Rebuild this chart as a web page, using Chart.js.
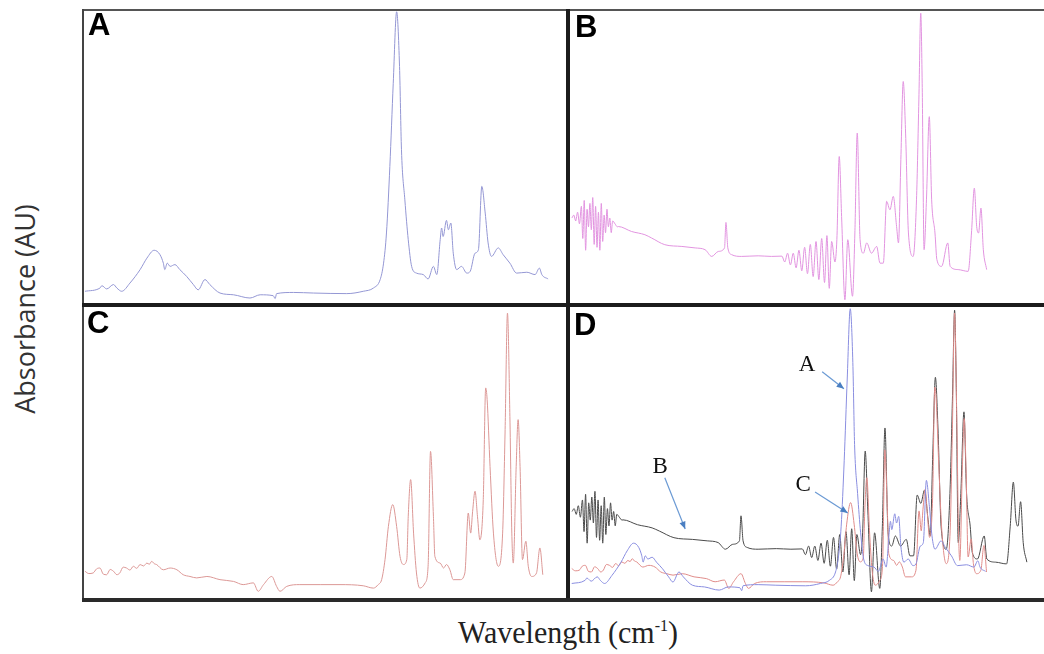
<!DOCTYPE html>
<html lang="en">
<head>
  <meta charset="UTF-8" />
  <title>FTIR spectra A-D</title>
  <script src="https://cdn.jsdelivr.net/npm/chart.js"></script>
  <style>
    body {
      margin: 0;
      background: #fff;
    }

    #fig {
      position: relative;
      width: 1044px;
      height: 654px;
      overflow: hidden;
    }

    canvas, .rule, .tag, .title {
      position: absolute;
    }

    .rule {
      background: #1c1c1c;
    }

    .tag {
      font-family: "Liberation Sans", Arial, sans-serif;
      font-weight: bold;
      font-size: 31px;
      line-height: 1;
      color: #000;
    }

    #ytitle {
      font-family: "Open Sans", sans-serif;
      font-size: 27px;
      color: #333;
      left: 24px;
      top: 309px;
      transform: translate(-50%, -50%) rotate(-90deg);
      white-space: nowrap;
    }

    #xtitle {
      font-family: "Liberation Serif", "Times New Roman", serif;
      font-size: 30px;
      color: #222;
      left: 568px;
      top: 632px;
      transform: translate(-50%, -50%) scaleY(1.08);
      white-space: nowrap;
    }

    #xtitle sup {
      font-size: 16px;
    }
  </style>
</head>
<body>
  <div id="fig">
    <canvas id="panelA" width="484" height="293" style="left:83px;top:10px"></canvas>
    <canvas id="panelB" width="474" height="293" style="left:570px;top:10px"></canvas>
    <canvas id="panelC" width="484" height="291" style="left:83px;top:307px"></canvas>
    <canvas id="panelD" width="474" height="288" style="left:570px;top:307px"></canvas>

    <div class="rule" style="left:82px;top:9px;width:962px;height:2px;background:#555"></div>
    <div class="rule" style="left:82px;top:9px;width:2px;height:593px;background:#444"></div>
    <div class="rule" style="left:566px;top:9px;width:4px;height:593px"></div>
    <div class="rule" style="left:82px;top:303px;width:962px;height:4px"></div>
    <div class="rule" style="left:82px;top:598px;width:962px;height:4px;background:#2a2a2a"></div>

    <div class="tag" style="left:88px;top:9px">A</div>
    <div class="tag" style="left:575px;top:11px">B</div>
    <div class="tag" style="left:87px;top:307px">C</div>
    <div class="tag" style="left:574px;top:309px">D</div>

    <div class="title" id="ytitle">Absorbance (AU)</div>
    <div class="title" id="xtitle">Wavelength (cm<sup>-1</sup>)</div>
  </div>

  <script>
    // spectra: [x in % of panel width, absorbance in % of panel height]
    const spectrumA = [
      [0.4,4.0],[3.5,5.1],[3.9,5.9],[4.9,4.8],[6.3,6.3],[7.0,5.1],[8.0,4.0],[9.7,6.8],
      [11.8,11.4],[13.2,15.3],[14.7,18.0],[15.9,16.5],[16.6,13.6],[16.9,11.4],[17.4,13.6],
      [18.0,12.5],[19.0,13.1],[20.0,11.4],[21.4,9.1],[22.8,6.3],[23.8,4.5],[25.2,8.0],
      [26.2,6.3],[28.3,3.4],[31.1,2.8],[34.5,1.7],[36.6,2.8],[39.3,2.5],[39.7,1.5],[40.0,3.2],
      [43.5,3.6],[47.6,3.4],[54.5,3.2],[57.9,4.0],[60.0,5.1],[61.4,8.0],[62.1,13.6],
      [62.7,23.9],[63.4,46.6],[64.1,75.0],[64.8,99.4],[65.4,80.7],[65.8,52.3],[66.5,35.2],
      [67.2,21.6],[67.9,12.5],[68.9,10.2],[70.3,9.7],[71.3,8.2],[72.4,12.5],[73.1,9.7],
      [73.8,21.6],[74.1,25.6],[74.4,22.7],[75.1,28.2],[75.5,25.0],[76.0,27.3],[76.5,17.0],
      [77.2,11.4],[78.2,12.5],[79.3,10.2],[80.0,10.8],[81.0,17.0],[81.7,18.2],[82.4,39.8],
      [83.1,30.7],[83.7,20.5],[84.4,15.9],[85.8,18.8],[86.8,16.5],[88.2,13.6],[89.6,10.2],
      [91.7,10.5],[93.4,9.7],[94.3,11.9],[94.8,9.7],[96.1,8.2]
    ];

    const spectrumB = [
      [0.4,29],[0.8,30],[1.2,28],[1.6,31],[2.0,27],[2.4,33],[2.7,22],[3.0,35],[3.3,18],
      [3.6,32],[3.9,26],[4.2,34],[4.5,25],[4.8,36],[5.1,20],[5.4,33],[5.7,19],[6.0,31],
      [6.3,18],[6.6,34],[6.9,21],[7.2,30],[7.5,24],[7.8,32],[8.1,26],[8.4,29],[8.7,24],
      [9.0,28],[9.5,27],[10.0,26],[10.2,26.1],[13.0,24.4],[15.8,23.3],[17.2,22.2],[20.0,19.9],
      [23.6,19.3],[26.4,18.8],[28.5,18.2],[29.9,15.9],[31.3,17.6],[32.6,18.8],[32.9,27.5],
      [33.3,18.8],[34.1,16.5],[36.2,15.9],[39.7,16.1],[42.5,15.9],[44.7,16],[45.3,14],
      [45.9,17],[46.5,13],[47.1,17],[47.7,12],[48.3,18],[48.9,11],[49.5,19],[50.1,10],
      [50.7,20],[51.3,9],[51.9,21],[52.5,8],[53.1,22],[53.7,7],[54.2,23],[54.7,5],[55.2,21],
      [55.9,14],[56.3,21.6],[56.8,50.0],[57.3,29.5],[58.0,1.1],[58.6,21.6],[59.6,2.3],
      [60.1,23.9],[60.6,58.0],[61.2,21.6],[61.9,17.0],[62.6,20.5],[63.6,17.0],[64.7,19.3],
      [65.4,13.6],[66.1,13.6],[66.8,34.7],[67.5,31.8],[68.2,36.4],[68.9,26.1],[69.3,20.5],
      [69.8,48.9],[70.3,75.6],[70.8,58.0],[71.4,23.9],[72.4,15.9],[73.1,35.2],[73.6,69.3],
      [74.0,98.9],[74.3,75.0],[74.7,18.2],[75.2,35.2],[75.8,63.6],[76.3,35.2],[77.0,23.9],
      [77.4,14.8],[78.4,12.5],[79.7,20.5],[80.2,12.5],[81.9,11.4],[84.0,10.8],[84.7,23.9],
      [85.3,39.2],[85.8,26.1],[86.2,23.9],[86.7,32.4],[87.2,18.2],[87.9,11.4]
    ];

    const spectrumC = [
      [0.4,9.2],[1.2,8.4],[2.1,8.6],[2.8,10.0],[3.5,10.3],[4.2,8.2],[4.9,8.0],[5.6,9.8],
      [6.3,9.2],[7.0,8.0],[7.6,8.6],[8.3,10.6],[9.0,10.3],[9.7,9.6],[10.4,10.9],[11.1,10.2],
      [11.8,11.5],[12.5,11.0],[13.2,12.0],[13.7,11.6],[14.2,12.6],[14.7,11.8],[15.2,11.5],
      [16.6,9.7],[18.0,10.3],[19.4,9.7],[20.7,8.0],[22.1,7.4],[23.5,6.9],[25.6,7.4],
      [28.3,6.3],[31.1,5.7],[33.1,4.6],[35.2,5.2],[36.2,2.3],[37.3,4.6],[39.0,7.4],[40.0,4.0],
      [40.7,2.3],[42.1,4.0],[44.8,4.6],[49.0,4.6],[53.1,4.6],[57.9,4.2],[60.0,3.4],[61.0,4.6],
      [61.7,6.3],[62.4,13.2],[63.1,24.6],[64.0,32.1],[64.8,24.6],[65.5,14.3],[66.2,11.5],
      [66.9,13.2],[67.2,28.1],[67.7,40.7],[68.3,22.3],[68.9,8.6],[69.6,3.4],[70.7,5.2],
      [71.3,10.9],[71.8,50.4],[72.4,28.1],[72.7,14.3],[73.8,12.0],[74.5,10.3],[75.1,11.5],
      [75.8,9.7],[76.5,6.3],[77.9,6.3],[78.9,8.6],[79.6,29.2],[80.1,22.3],[80.5,29.8],
      [81.0,36.7],[81.5,28.1],[82.0,20.0],[82.7,33.8],[83.2,72.2],[83.5,68.2],[84.1,45.2],
      [84.8,22.3],[85.8,10.9],[86.7,22.3],[87.2,56.7],[87.7,97.9],[88.2,62.4],[88.6,22.3],
      [88.9,12.0],[89.5,45.2],[89.9,61.3],[90.3,45.2],[90.8,13.2],[91.5,19.5],[92.0,10.9],
      [92.7,7.4],[93.7,8.6],[94.4,17.2],[95.0,8.0]
    ];

    // in panel D the three spectra are overlaid, each squeezed onto its own x range
    const overlayRangeA = 109.6;
    const overlayRangeB = 91.2;
    const overlayRangeC = 108.1;

    function toPoints(pairs) {
      return pairs.map(p => ({ x: p[0], y: p[1] }));
    }

    function baseOptions(scales) {
      return {
        animation: false,
        responsive: false,
        events: [],
        layout: { padding: 0 },
        elements: {
          point: { radius: 0 },
          line: { borderWidth: 1, cubicInterpolationMode: 'monotone' }
        },
        plugins: {
          legend: { display: false },
          tooltip: { enabled: false }
        },
        scales: scales
      };
    }

    function pctAxis(max) {
      return { type: 'linear', min: 0, max: max, display: false };
    }

    function singlePanel(id, pairs, color) {
      new Chart(document.getElementById(id), {
        type: 'line',
        data: {
          datasets: [{ data: toPoints(pairs), borderColor: color, borderWidth: 1 }]
        },
        options: baseOptions({ x: pctAxis(100), y: pctAxis(100) })
      });
    }

    singlePanel('panelA', spectrumA, '#9497d4');
    singlePanel('panelB', spectrumB, '#e294e0');
    singlePanel('panelC', spectrumC, '#dc9896');

    // arrows + letters in panel D, placed in the panel's own % coordinates
    const callouts = [
      { text: 'A', at: [50.0, 80.0], from: [53.2, 77.5], to: [57.8, 71.6] },
      { text: 'B', at: [19.0, 44.5], from: [20.0, 40.7], to: [24.3, 22.9] },
      { text: 'C', at: [49.2, 38.2], from: [51.7, 35.8], to: [58.6, 28.5] }
    ];

    const calloutPlugin = {
      id: 'callouts',
      afterDatasetsDraw(chart) {
        const ctx = chart.ctx;
        const sx = chart.scales.x;
        const sy = chart.scales.y;
        ctx.save();
        callouts.forEach(c => {
          const x0 = sx.getPixelForValue(c.from[0]);
          const y0 = sy.getPixelForValue(c.from[1]);
          const x1 = sx.getPixelForValue(c.to[0]);
          const y1 = sy.getPixelForValue(c.to[1]);
          ctx.strokeStyle = '#6b9ad4';
          ctx.fillStyle = '#4a7fc2';
          ctx.lineWidth = 1.2;
          ctx.beginPath();
          ctx.moveTo(x0, y0);
          ctx.lineTo(x1, y1);
          ctx.stroke();
          const ang = Math.atan2(y1 - y0, x1 - x0);
          ctx.beginPath();
          ctx.moveTo(x1, y1);
          ctx.lineTo(x1 - 8 * Math.cos(ang - 0.4), y1 - 8 * Math.sin(ang - 0.4));
          ctx.lineTo(x1 - 8 * Math.cos(ang + 0.4), y1 - 8 * Math.sin(ang + 0.4));
          ctx.closePath();
          ctx.fill();

          ctx.fillStyle = '#111';
          ctx.font = '23px "Liberation Serif", serif';
          ctx.textAlign = 'center';
          ctx.textBaseline = 'middle';
          ctx.fillText(c.text, sx.getPixelForValue(c.at[0]), sy.getPixelForValue(c.at[1]));
        });
        ctx.restore();
      }
    };

    new Chart(document.getElementById('panelD'), {
      type: 'line',
      data: {
        datasets: [
          { data: toPoints(spectrumA), xAxisID: 'xA', borderColor: '#8a8ee0', order: 1 },
          { data: toPoints(spectrumC), xAxisID: 'xC', borderColor: '#e08c8a', order: 2 },
          { data: toPoints(spectrumB), xAxisID: 'xB', borderColor: '#4a4a4a', order: 3 }
        ]
      },
      options: baseOptions({
        x: pctAxis(100),
        xA: pctAxis(overlayRangeA),
        xB: pctAxis(overlayRangeB),
        xC: pctAxis(overlayRangeC),
        y: pctAxis(100)
      }),
      plugins: [calloutPlugin]
    });
  </script>
</body>
</html>
